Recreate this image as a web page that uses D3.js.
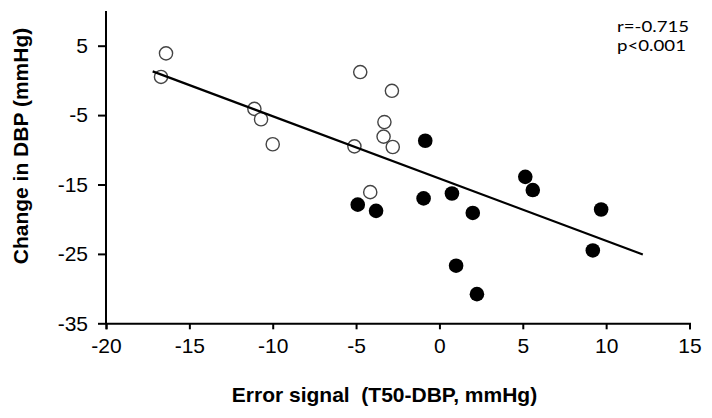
<!DOCTYPE html>
<html>
<head>
<meta charset="utf-8">
<script src="https://cdn.jsdelivr.net/npm/d3@7"></script>
<style>
  html, body { margin: 0; padding: 0; background: #fff; }
  svg { display: block; }
</style>
</head>
<body>
<svg id="chart" width="712" height="418"></svg>
<script>
// Open circles (group 1)
const openX = [-16.4, -16.7, -11.1, -10.7, -10.0, -4.75, -2.85, -3.3, -3.35, -2.8, -5.1, -4.15];
const openY = [3.9, 0.5, -4.1, -5.6, -9.2, 1.2, -1.5, -6.0, -8.1, -9.6, -9.5, -16.1];
// Filled circles (group 2)
const filledX = [-0.85, -4.9, -3.8, -0.95, 0.75, 2.0, 5.15, 5.6, 9.7, 9.2, 1.0, 2.25];
const filledY = [-8.7, -17.9, -18.8, -17.0, -16.3, -19.1, -13.9, -15.8, -18.6, -24.5, -26.7, -30.8];
// Regression line endpoints
const lineX = [-17.2, 12.2];
const lineY = [1.3, -25.1];
// Ticks
const xTicks = [-20, -15, -10, -5, 0, 5, 10, 15];
const yTicks = [5, -5, -15, -25, -35];
const annotation = ["r=-0.715", "p<0.001"];

const svg = d3.select("#chart");
const x = d3.scaleLinear().domain([-20, 15]).range([106, 689.5]);
const y = d3.scaleLinear().domain([-35, 10]).range([323.3, 11]);

const font = "'Liberation Sans', Arial, sans-serif";
const fmt = d => String(d);

// X axis
const xAxis = svg.append("g")
  .attr("transform", `translate(0,${y(-35)})`)
  .call(d3.axisBottom(x).tickValues(xTicks).tickSize(6).tickPadding(9).tickFormat(fmt));
xAxis.select(".domain").attr("stroke", "#000").attr("stroke-width", 2);
xAxis.selectAll(".tick line").attr("stroke", "#000").attr("stroke-width", 2);
xAxis.selectAll(".tick text").attr("font-family", font).attr("font-size", 21).attr("fill", "#000");

// Y axis
const yAxis = svg.append("g")
  .attr("transform", `translate(${x(-20)},0)`)
  .call(d3.axisLeft(y).tickValues(yTicks).tickSize(8).tickPadding(10).tickFormat(fmt));
yAxis.select(".domain").attr("stroke", "#000").attr("stroke-width", 2)
  .attr("d", `M0,${y(10)}V${y(-35)}`);
yAxis.selectAll(".tick line").attr("stroke", "#000").attr("stroke-width", 2);
yAxis.selectAll(".tick text").attr("font-family", font).attr("font-size", 21).attr("fill", "#000");

// Open circles
svg.append("g").selectAll("circle")
  .data(openX.map((v, i) => [v, openY[i]]))
  .join("circle")
  .attr("cx", d => x(d[0]))
  .attr("cy", d => y(d[1]))
  .attr("r", 6.6)
  .attr("fill", "#fff")
  .attr("stroke", "#444")
  .attr("stroke-width", 1.4);

// Filled circles
svg.append("g").selectAll("circle")
  .data(filledX.map((v, i) => [v, filledY[i]]))
  .join("circle")
  .attr("cx", d => x(d[0]))
  .attr("cy", d => y(d[1]))
  .attr("r", 7.3)
  .attr("fill", "#000");

// Regression line
svg.append("path")
  .datum(lineX.map((v, i) => [v, lineY[i]]))
  .attr("d", d3.line().x(d => x(d[0])).y(d => y(d[1])))
  .attr("fill", "none")
  .attr("stroke", "#000")
  .attr("stroke-width", 2.2);

// Axis titles
svg.append("text")
  .attr("x", 384.5).attr("y", 402)
  .attr("text-anchor", "middle")
  .attr("font-family", font).attr("font-weight", "bold").attr("font-size", 21)
  .attr("xml:space", "preserve")
  .style("white-space", "pre")
  .text("Error signal  (T50-DBP, mmHg)");

svg.append("text")
  .attr("transform", "translate(28,146) rotate(-90)")
  .attr("text-anchor", "middle")
  .attr("font-family", font).attr("font-weight", "bold").attr("font-size", 21)
  .text("Change in DBP (mmHg)");

// Annotation
const annoWidths = [72, 69];
svg.append("g").selectAll("text")
  .data(annotation)
  .join("text")
  .attr("x", 617)
  .attr("y", (d, i) => 31.5 + i * 19.5)
  .attr("font-family", "Lato, 'Noto Sans', sans-serif")
  .attr("font-size", 16)
  .attr("textLength", (d, i) => annoWidths[i])
  .attr("lengthAdjust", "spacingAndGlyphs")
  .attr("fill", "#000")
  .text(d => d);
</script>
</body>
</html>
